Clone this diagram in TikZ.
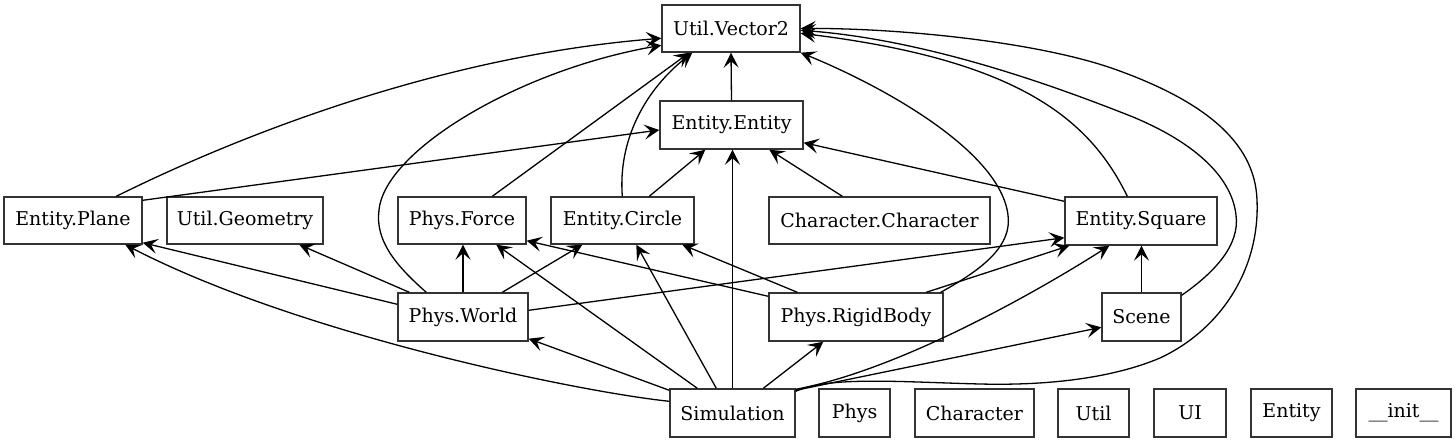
\documentclass[tikz,border=0pt]{standalone}
\usepackage{fontspec}
\setmainfont{DejaVu Serif}
\usetikzlibrary{arrows.meta,calc}
\begin{document}
\begin{tikzpicture}[x=0.5pt,y=-0.5pt,
  box/.style={draw=black!80, line width=0.7pt, rectangle, inner sep=0pt,
    minimum height=24pt, font=\fontsize{9.5}{11}\selectfont},
  wpx/.style={minimum width=#1*0.5pt},
  edge/.style={-{Stealth[length=7.5pt,width=7.5pt,inset=3.2pt]}, line width=0.65pt}]
\useasboundingbox (0,0) rectangle (1456,443);
% nodes
\node[box,wpx=138,minimum height=23.5pt] (vec) at (731,28.5) {Util.Vector2};
\node[box,wpx=143] (ent) at (731.5,125) {Entity.Entity};
\node[box,wpx=138,minimum height=23.5pt] (plane) at (73,220.5) {Entity.Plane};
\node[box,wpx=156,minimum height=23.5pt] (geom) at (245,220.5) {Util.Geometry};
\node[box,wpx=128,minimum height=23.5pt] (force) at (462,220.5) {Phys.Force};
\node[box,wpx=143,minimum height=23.5pt] (circle) at (622.5,220.5) {Entity.Circle};
\node[box,wpx=221,minimum height=23.5pt] (char) at (879.5,220.5) {Character.Character};
\node[box,wpx=152] (square) at (1141,221) {Entity.Square};
\node[box,wpx=130] (world) at (463,317) {Phys.World};
\node[box,wpx=174] (rigid) at (856,317) {Phys.RigidBody};
\node[box,wpx=79] (scene) at (1141.5,317) {Scene};
\node[box,wpx=125] (sim) at (732.5,413) {Simulation};
\node[box,wpx=71] (phys) at (854.5,413) {Phys};
\node[box,wpx=119] (cpkg) at (974.5,413) {Character};
\node[box,wpx=71] (upkg) at (1093.5,413) {Util};
\node[box,wpx=72] (uipkg) at (1190,413) {UI};
\node[box,wpx=81] (epkg) at (1291.5,413) {Entity};
\node[box,wpx=95] (init) at (1403.5,413) {\_\_init\_\_};
% edges to Util.Vector2
\draw[edge] ($(plane.north west)+(113,0)$) .. controls (250,130) and (450,55) .. ($(vec.north west)+(0,34)$);
\draw[edge] ($(force.north west)+(95,0)$) -- ($(vec.south west)+(28,0)$);
\draw[edge] ($(world.north west)+(29,0)$) .. controls (395,265) and (375,240) .. (379,210)
  .. controls (385,150) and (520,70) .. ($(vec.north west)+(0,41)$);
\draw[edge] ($(circle.north west)+(72,0)$) .. controls (618,140) and (645,90) .. ($(vec.south west)+(31,0)$);
\draw[edge] (ent.north) -- (vec.south);
\draw[edge] ($(rigid.north east)+(-3,0)$) .. controls (985,268) and (1012,245) .. (1008,215)
  .. controls (1000,150) and (880,85) .. (vec.south east);
\draw[edge] ($(square.north west)+(63,0)$) .. controls (1090,120) and (1020,60) .. ($(vec.north east)+(0,29)$);
\draw[edge] ($(scene.north east)+(0,3)$) .. controls (1215,272) and (1240,245) .. (1236,215)
  .. controls (1232,180) and (1200,145) .. (1133,117)
  .. controls (1060,88) and (930,40) .. ($(vec.north east)+(0,26)$);
\draw[edge] ($(sim.north east)+(0,3)$) .. controls (830,376) and (900,382) .. (980,384)
  .. controls (1060,386) and (1120,375) .. (1160,358)
  .. controls (1220,330) and (1260,270) .. (1257,200)
  .. controls (1255,140) and (1200,100) .. (1117,70)
  .. controls (1040,42) and (900,28) .. (vec.east);
% edges to Entity.Entity
\draw[edge] ($(plane.north east)+(0,4)$) -- ($(ent.west)+(0,5)$);
\draw[edge] ($(circle.north west)+(99,0)$) -- ($(ent.south west)+(46,0)$);
\draw[edge] (sim.north) -- (sim.north |- ent.south);
\draw[edge] ($(char.north west)+(74,0)$) -- ($(ent.south west)+(110,0)$);
\draw[edge] ($(square.north west)+(0,5)$) -- ($(ent.south east)+(0,-7)$);
% Phys.World
\draw[edge] ($(world.north west)+(0,12)$) -- ($(plane.south east)+(0,-2)$);
\draw[edge] ($(world.north west)+(12,0)$) -- ($(geom.south west)+(133,0)$);
\draw[edge] (world.north) -- (world.north |- force.south);
\draw[edge] ($(world.north west)+(105,0)$) -- ($(circle.south west)+(32,0)$);
\draw[edge] ($(world.north east)+(0,18)$) -- ($(square.south west)+(0,-8)$);
% Phys.RigidBody
\draw[edge] ($(rigid.north west)+(0,4)$) -- ($(force.south east)+(0,-4)$);
\draw[edge] ($(rigid.north west)+(29,0)$) -- ($(circle.south west)+(132,0)$);
\draw[edge] ($(rigid.north west)+(158,0)$) -- ($(square.south west)+(5,0)$);
% Simulation
\draw[edge] ($(sim.north west)+(0,13)$) .. controls (580,392) and (300,335) .. ($(plane.south west)+(122,0)$);
\draw[edge] ($(sim.north west)+(0,2)$) -- ($(world.south east)+(0,-3)$);
\draw[edge] ($(sim.north west)+(28,0)$) -- ($(force.south west)+(99,0)$);
\draw[edge] ($(sim.north west)+(47,0)$) -- ($(circle.south west)+(86,0)$);
\draw[edge] ($(sim.north west)+(94,0)$) -- ($(rigid.south west)+(55,0)$);
\draw[edge] ($(sim.north east)+(0,1)$) .. controls (900,370) and (1040,290) .. ($(square.south west)+(45,0)$);
\draw[edge] ($(sim.north east)+(0,2)$) -- ($(scene.north west)+(0,35)$);
% Scene
\draw[edge] (scene.north) -- (scene.north |- square.south);
\end{tikzpicture}
\end{document}
